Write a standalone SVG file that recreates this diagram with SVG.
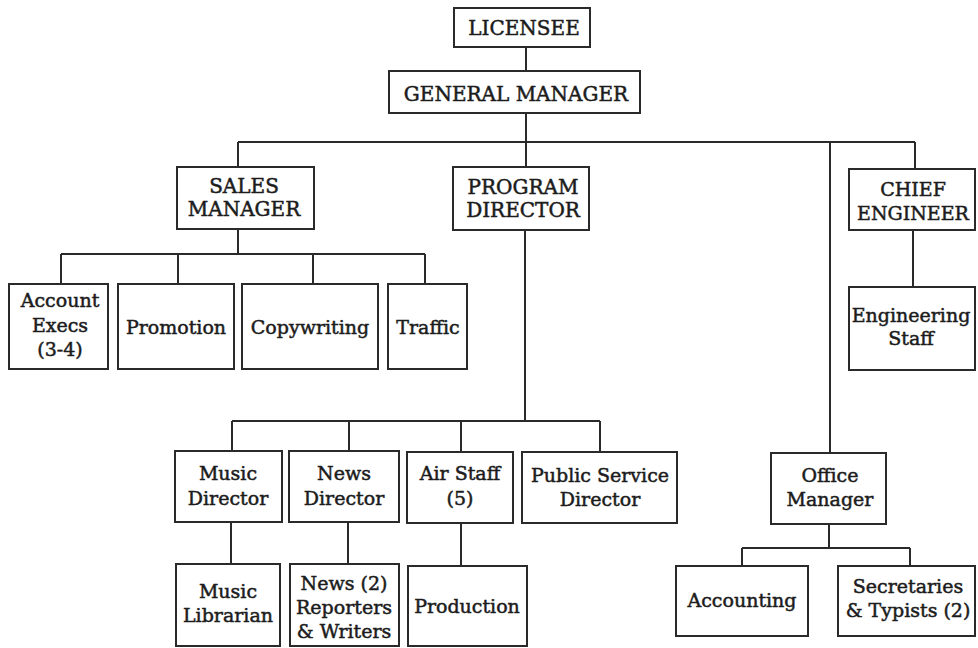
<svg xmlns="http://www.w3.org/2000/svg" width="978" height="648" viewBox="0 0 978 648">
<style>
.b{fill:#fff;stroke:#2a2a2a;stroke-width:2}
.c{fill:none;stroke:#2a2a2a;stroke-width:2}
text{font-family:"DejaVu Serif","Liberation Serif",serif;fill:#1c1c1c;stroke:#1c1c1c;stroke-width:0.5;text-anchor:middle}
.u{font-size:20px}
.l{font-size:19px}
.s{font-size:19px}
</style>
<rect width="978" height="648" fill="#fff"/>
<g id="connectors">
<path class="c" d="M526 47V71M526 113V142M238 142H915M238 142V167M526 142V167M830 142V453M915 142V169"/>
<path class="c" d="M238 229V254M61 254H425M61 254V284M178 254V284M313 254V284M425 254V284"/>
<path class="c" d="M913 230V287"/>
<path class="c" d="M525 230V421M232 421H600M232 421V451M349 421V451M461 421V452M600 421V452"/>
<path class="c" d="M231 522V564M348 522V564M461 523V566"/>
<path class="c" d="M829 524V548M742 548H910M742 548V566M910 548V566"/>
</g>
<g id="licensee"><rect class="b" x="454" y="8" width="136" height="39"/><text class="u" x="524" y="35">LICENSEE</text></g>
<g id="general-manager"><rect class="b" x="389" y="71" width="251" height="42"/><text class="u" x="516" y="101">GENERAL MANAGER</text></g>
<g id="sales-manager"><rect class="b" x="177" y="167" width="137" height="62"/><text class="u" x="244" y="193">SALES</text><text class="u" x="244" y="216">MANAGER</text></g>
<g id="program-director"><rect class="b" x="453" y="167" width="136" height="63"/><text class="u" x="523" y="194">PROGRAM</text><text class="u" x="523" y="217">DIRECTOR</text></g>
<g id="chief-engineer"><rect class="b" x="849" y="169" width="126" height="61"/><text class="s" x="913" y="196">CHIEF</text><text class="s" x="913" y="220">ENGINEER</text></g>
<g id="account-execs"><rect class="b" x="9" y="284" width="99" height="85"/><text class="l" x="60" y="307">Account</text><text class="l" x="60" y="332">Execs</text><text class="l" x="60" y="356">(3-4)</text></g>
<g id="promotion"><rect class="b" x="118" y="284" width="116" height="85"/><text class="l" x="176" y="334">Promotion</text></g>
<g id="copywriting"><rect class="b" x="242" y="284" width="136" height="85"/><text class="l" x="310" y="334">Copywriting</text></g>
<g id="traffic"><rect class="b" x="388" y="284" width="79" height="85"/><text class="l" x="428" y="334">Traffic</text></g>
<g id="engineering-staff"><rect class="b" x="849" y="287" width="126" height="83"/><text class="l" x="911" y="322">Engineering</text><text class="l" x="911" y="345">Staff</text></g>
<g id="music-director"><rect class="b" x="175" y="451" width="107" height="71"/><text class="l" x="228" y="480">Music</text><text class="l" x="228" y="505">Director</text></g>
<g id="news-director"><rect class="b" x="289" y="451" width="110" height="71"/><text class="l" x="344" y="480">News</text><text class="l" x="344" y="505">Director</text></g>
<g id="air-staff"><rect class="b" x="407" y="452" width="106" height="71"/><text class="l" x="460" y="480">Air Staff</text><text class="l" x="460" y="505">(5)</text></g>
<g id="public-service-director"><rect class="b" x="522" y="452" width="155" height="71"/><text class="l" x="600" y="482">Public Service</text><text class="l" x="600" y="506">Director</text></g>
<g id="office-manager"><rect class="b" x="771" y="453" width="115" height="71"/><text class="l" x="830" y="482">Office</text><text class="l" x="830" y="506">Manager</text></g>
<g id="music-librarian"><rect class="b" x="176" y="564" width="104" height="82"/><text class="l" x="228" y="598">Music</text><text class="l" x="228" y="622">Librarian</text></g>
<g id="news-reporters"><rect class="b" x="290" y="564" width="109" height="82"/><text class="l" x="344" y="590">News (2)</text><text class="l" x="344" y="614">Reporters</text><text class="l" x="344" y="638">&amp; Writers</text></g>
<g id="production"><rect class="b" x="408" y="566" width="119" height="80"/><text class="l" x="467" y="613">Production</text></g>
<g id="accounting"><rect class="b" x="676" y="566" width="132" height="70"/><text class="l" x="742" y="607">Accounting</text></g>
<g id="secretaries"><rect class="b" x="838" y="566" width="137" height="70"/><text class="l" x="908" y="593">Secretaries</text><text class="l" x="908" y="617">&amp; Typists (2)</text></g>
</svg>
